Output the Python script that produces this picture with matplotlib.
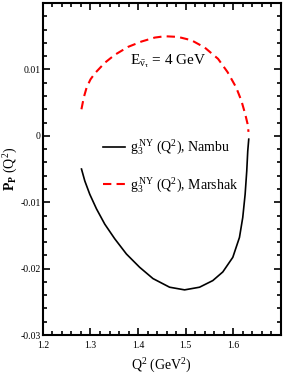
import numpy as np
import matplotlib
matplotlib.use('Agg')
import matplotlib.pyplot as plt
from matplotlib.ticker import MultipleLocator

plt.rcParams['font.family'] = ['Liberation Serif', 'DejaVu Serif']
plt.rcParams['mathtext.fontset'] = 'custom'
plt.rcParams['mathtext.rm'] = 'Liberation Serif'
plt.rcParams['mathtext.it'] = 'Liberation Serif'
plt.rcParams['mathtext.bf'] = 'Liberation Serif:bold'

# Nambu curve (black, solid)
q2_nambu = [1.2811, 1.2881, 1.2985, 1.3126, 1.3300, 1.3509, 1.3755, 1.4033,
            1.4313, 1.4662, 1.4977, 1.5291, 1.5570, 1.5780, 1.5990, 1.6130,
            1.6199, 1.6249, 1.6283, 1.6304, 1.6325]
pp_nambu = [-0.0050, -0.0068, -0.0088, -0.0110, -0.0133, -0.0155, -0.0178,
            -0.0198, -0.0215, -0.0228, -0.0232, -0.0228, -0.0218, -0.0205,
            -0.0183, -0.0153, -0.0123, -0.0088, -0.0053, -0.0023, -0.0005]

# Marshak curve (red, dashed)
q2_marshak = [1.281, 1.286, 1.292, 1.300, 1.309, 1.330, 1.351, 1.379, 1.407,
              1.435, 1.456, 1.484, 1.512, 1.540, 1.568, 1.588, 1.606, 1.617,
              1.625, 1.630, 1.632]
pp_marshak = [0.0040, 0.0058, 0.0073, 0.0085, 0.0094, 0.0110, 0.0122, 0.0134,
              0.0142, 0.0148, 0.0150, 0.0149, 0.0144, 0.0133, 0.0116, 0.0096,
              0.0073, 0.0053, 0.0033, 0.0018, 0.0006]

fig = plt.figure(figsize=(2.84, 3.82), dpi=100)
ax = fig.add_axes([0.151, 0.123, 0.838, 0.869])

ax.plot(q2_nambu, pp_nambu, color='black', lw=1.2,
        label=r'$\mathrm{g_3^{\,NY}}$ $\mathrm{(Q^2)}$, Nambu')
ax.plot(q2_marshak, pp_marshak, color='red', lw=1.5, ls=(0, (4, 2.5)),
        label=r'$\mathrm{g_3^{\,NY}}$ $\mathrm{(Q^2)}$, Marshak')

ax.set_xlim(1.2, 1.7)
ax.set_ylim(-0.03, 0.02)
ax.xaxis.set_minor_locator(MultipleLocator(0.02))
ax.yaxis.set_minor_locator(MultipleLocator(0.002))
ax.set_xticks([1.2, 1.3, 1.4, 1.5, 1.6])
ax.set_xticklabels(['1.2', '1.3', '1.4', '1.5', '1.6'])
ax.set_yticks([-0.03, -0.02, -0.01, 0, 0.01])
ax.set_yticklabels(['-0.03', '-0.02', '-0.01', '0', '0.01'])

ax.tick_params(which='both', direction='in', top=True, right=True,
               labelsize=7, width=1.2)
ax.tick_params(axis='x', pad=4)
ax.tick_params(axis='y', pad=1.5)
ax.tick_params(which='major', length=5)
ax.tick_params(which='minor', length=3)
for s in ax.spines.values():
    s.set_linewidth(1.5)

ax.set_xlabel(r'$\mathrm{Q^2}$ (GeV$^2$)', fontsize=10, labelpad=5)
ax.set_ylabel(r'$\mathbf{P_P}$ $\mathrm{(Q^2)}$', fontsize=10)
ax.yaxis.set_label_coords(-0.095, 0.5)

ax.text(1.382, 0.0108, r'$\mathrm{E_{\bar{\nu}_\tau}}$ = 4 GeV', fontsize=11)

ax.legend(loc='upper left', bbox_to_anchor=(0.23, 0.61), frameon=False,
          fontsize=10, handlelength=1.6, handletextpad=0.3, labelspacing=1.3,
          borderaxespad=0)

fig.savefig('out.png', dpi=100)
